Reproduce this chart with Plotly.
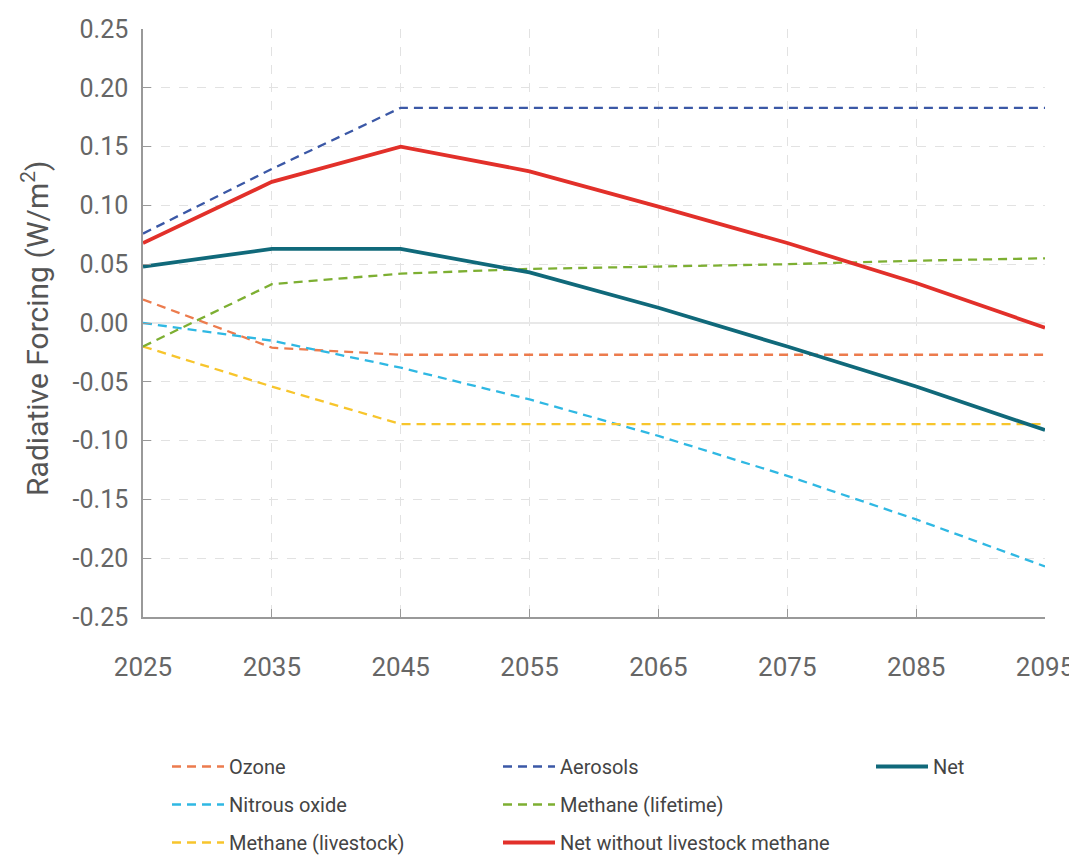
import plotly.graph_objects as go

years = [2025, 2035, 2045, 2055, 2065, 2075, 2085, 2095]
ozone = [0.020, -0.021, -0.027, -0.027, -0.027, -0.027, -0.027, -0.027]
aerosols = [0.076, 0.131, 0.183, 0.183, 0.183, 0.183, 0.183, 0.183]
net = [0.048, 0.063, 0.063, 0.043, 0.013, -0.020, -0.054, -0.091]
nitrous = [0.000, -0.015, -0.038, -0.065, -0.096, -0.130, -0.167, -0.207]
methane_life = [-0.020, 0.033, 0.042, 0.046, 0.048, 0.050, 0.053, 0.055]
methane_live = [-0.020, -0.054, -0.086, -0.086, -0.086, -0.086, -0.086, -0.086]
net_wo = [0.068, 0.120, 0.150, 0.129, 0.099, 0.068, 0.034, -0.004]

y_ticks = [-0.25, -0.20, -0.15, -0.10, -0.05, 0.0, 0.05, 0.10, 0.15, 0.20, 0.25]
y_ticktext = ["-0.25", "-0.20", "-0.15", "-0.10", "-0.05", "0.00", "0.05", "0.10", "0.15", "0.20", "0.25"]

series = [
    ("Ozone", ozone, "#EC7B4D", True, "legend"),
    ("Nitrous oxide", nitrous, "#2FB8E3", True, "legend"),
    ("Methane (livestock)", methane_live, "#F7C52C", True, "legend"),
    ("Aerosols", aerosols, "#3B58A6", True, "legend2"),
    ("Methane (lifetime)", methane_life, "#7DAF32", True, "legend2"),
    ("Net without livestock methane", net_wo, "#E2302A", False, "legend2"),
    ("Net", net, "#10697A", False, "legend3"),
]

W, H = 1069, 850

fig = go.Figure()
for name, vals, color, dashed, leg in series:
    fig.add_trace(go.Scatter(
        x=years, y=vals, name=name, mode="lines", legend=leg, legendgroup=name,
        line=dict(color=color, width=2.3 if dashed else 3.8,
                  dash="9px,6px" if dashed else "solid"),
    ))

legend_common = dict(xref="container", yref="container", yanchor="top", xanchor="left",
                     font=dict(family="Roboto", size=20, color="#444"),
                     bgcolor="rgba(0,0,0,0)", itemwidth=52, tracegroupgap=9,
                     traceorder="grouped")
ytop = (H - 739) / H
fig.update_layout(
    width=W, height=H,
    margin=dict(l=135, r=32, t=21, b=241, autoexpand=False),
    plot_bgcolor="white", paper_bgcolor="white",
    font=dict(family="Roboto", color="#555"),
    showlegend=True,
    legend=dict(x=159/W, y=ytop, **legend_common),
    legend2=dict(x=490/W, y=ytop, **legend_common),
    legend3=dict(x=863/W, y=ytop, **legend_common),
    annotations=[dict(
        text="Radiative Forcing (W/m<sup>2</sup>)", textangle=-90,
        xref="paper", yref="paper", x=(28 - 135) / 902, y=0.49,
        xanchor="center", yanchor="middle", showarrow=False,
        font=dict(family="Roboto", size=30, color="#555"),
    )],
)
fig.update_xaxes(
    range=[2025, 2095], tickvals=years, ticktext=[str(y) for y in years],
    showline=True, linecolor="#999", linewidth=1.5,
    showgrid=True, gridcolor="#e2e2e2", griddash="dash", gridwidth=1,
    ticks="inside", ticklen=8, tickcolor="#999",
    tickfont=dict(family="Roboto", size=26, color="#666"),
    ticklabelstandoff=26, zeroline=False,
)
fig.update_yaxes(
    range=[-0.25, 0.25], tickvals=y_ticks, ticktext=y_ticktext,
    showline=True, linecolor="#999", linewidth=1.5,
    showgrid=True, gridcolor="#e2e2e2", griddash="dash", gridwidth=1,
    zeroline=True, zerolinecolor="#e8e8e8", zerolinewidth=1.5,
    ticks="inside", ticklen=8, tickcolor="#999",
    tickfont=dict(family="Roboto", size=25, color="#666"),
    ticklabelstandoff=8,
)

fig.write_html("out.html")
